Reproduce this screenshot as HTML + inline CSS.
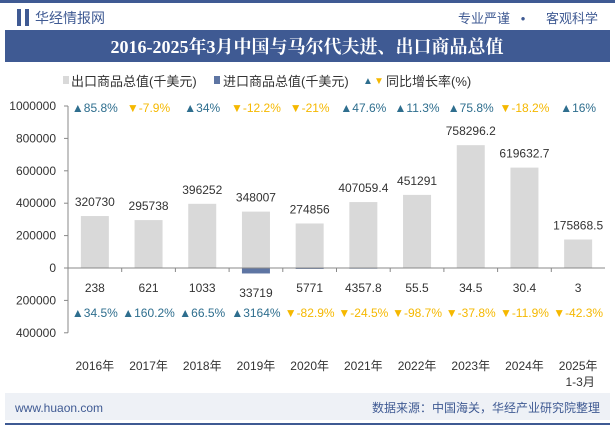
<!DOCTYPE html>
<html><head><meta charset="utf-8"><style>
body{margin:0;width:615px;height:427px;overflow:hidden;background:#fff;font-family:"Liberation Sans","Noto Sans CJK SC",sans-serif;}
svg{display:block}
</style></head><body>
<svg width="615" height="427" id="c">
<rect x="0" y="0" width="615" height="3" fill="#3f5a93"/>
<rect x="17" y="9" width="4" height="17" fill="#3f5a93"/>
<rect x="25" y="9" width="4" height="17" fill="#3f5a93"/>
<text x="35" y="23" font-size="14" fill="#3f5a93">华经情报网</text>
<text x="510" y="23" font-size="13" fill="#3f5a93" text-anchor="end">专业严谨</text>
<text x="523" y="23" font-size="13" fill="#3f5a93" text-anchor="middle">•</text>
<text x="598" y="23" font-size="13" fill="#3f5a93" text-anchor="end">客观科学</text>
<rect x="5" y="30" width="605" height="32" fill="#3f5a93"/>
<text x="307" y="53" font-size="18" font-weight="bold" fill="#fff" text-anchor="middle" font-family="Liberation Serif,Noto Serif CJK SC,serif">2016-2025年3月中国与马尔代夫进、出口商品总值</text>
<g font-size="13" fill="#333">
<rect x="63" y="76" width="6" height="8" fill="#d9d9d9"/>
<text x="71" y="86">出口商品总值(千美元)</text>
<rect x="214" y="76" width="6" height="8" fill="#5e75a3"/>
<text x="223" y="86">进口商品总值(千美元)</text>
<text x="363" y="84" font-size="10" fill="#2e6e8e">▲</text>
<text x="374" y="84" font-size="10" fill="#f5b800">▼</text>
<text x="386" y="86">同比增长率(%)</text>
</g>
<g id="plot"></g>
<rect x="5" y="393" width="605" height="27" fill="#eef1f6"/>
<text x="15" y="412" font-size="12" fill="#3f5a93">www.huaon.com</text>
<text x="600" y="412" font-size="12" fill="#3f5a93" text-anchor="end">数据来源：中国海关，华经产业研究院整理</text>
<rect x="5" y="423" width="605" height="2" fill="#3f5a93"/>
</svg>
<script>
const categories=["2016年","2017年","2018年","2019年","2020年","2021年","2022年","2023年","2024年","2025年"];
const exportValues=[320730,295738,396252,348007,274856,407059.4,451291,758296.2,619632.7,175868.5];
const importValues=[238,621,1033,33719,5771,4357.8,55.5,34.5,30.4,3];
const exportGrowth=[85.8,-7.9,34,-12.2,-21,47.6,11.3,75.8,-18.2,16];
const importGrowth=[34.5,160.2,66.5,3164,-82.9,-24.5,-98.7,-37.8,-11.9,-42.3];
const ticks=[1000000,800000,600000,400000,200000,0,-200000,-400000];
const NS="http://www.w3.org/2000/svg";
const g=document.getElementById('plot');
const x0=68,x1=605,y0=268,scale=162/1000000;
const bw=(x1-x0)/categories.length;
function y(v){return y0-v*scale;}
function cx(i){return x0+bw*(i+0.5);}
function el(t,a,txt){const e=document.createElementNS(NS,t);for(const k in a)e.setAttribute(k,a[k]);if(txt!==undefined)e.textContent=txt;g.appendChild(e);return e;}
ticks.forEach(t=>{
 const e=el('text',{x:56,y:y(t)+4,'font-size':12,fill:'#333','text-anchor':'end'},Math.abs(t));
 
 
 const l=el('line',{x1:x0-4,x2:x0,y1:y(t),y2:y(t),stroke:'#888'});
 
 
});
const ax=el('line',{x1:x0,x2:x0,y1:y(1000000),y2:y(-400000),stroke:'#888'});


categories.forEach((c,i)=>{
 const b=el('rect',{x:cx(i)-14,y:y(exportValues[i]),width:28,height:y0-y(exportValues[i]),fill:'#d9d9d9'});
 
 
 const ib=el('rect',{x:cx(i)-14,y:y0,width:28,height:y0-y(importValues[i])>=0?importValues[i]*scale:0,fill:'#5e75a3'});
 
 
 const ev=el('text',{x:cx(i),y:y(exportValues[i])-10,'font-size':12,fill:'#333','text-anchor':'middle'},exportValues[i]);
 
 
 const iv=el('text',{x:cx(i),y:y0+24+(importValues[i]>20000?5:0),'font-size':12,fill:'#333','text-anchor':'middle'},importValues[i]);
 
 
 [[exportGrowth,112],[importGrowth,317]].forEach(([arr,yy])=>{
  const v=arr[i],up=v>=0;
  const t=el('text',{x:cx(i),y:yy,'font-size':12,fill:up?'#2e6e8e':'#f5b800','text-anchor':'middle'},(up?'▲':'▼')+v+'%');
  
  
 });
 const xl=el('text',{x:cx(i),y:370,'font-size':12,fill:'#333','text-anchor':'middle'},c);
 
 
 if(i>0){const tk=el('line',{x1:x0+bw*i,x2:x0+bw*i,y1:y0,y2:y0+4,stroke:'#888'});
 
 }
});
const sub=el('text',{x:cx(9)+2,y:386,'font-size':12,fill:'#333','text-anchor':'middle'},'1-3月');


const xa=el('line',{x1:x0,x2:x1,y1:y0,y2:y0,stroke:'#888'});


</script>
</body></html>
